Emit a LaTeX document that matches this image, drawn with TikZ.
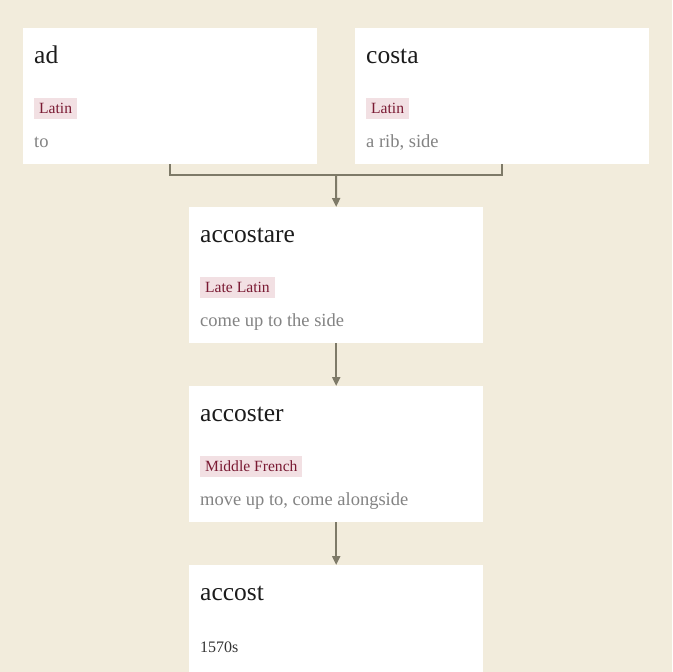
\documentclass[tikz,border=0pt]{standalone}
\usepackage{fontspec}
\setmainfont{Liberation Serif}
\usetikzlibrary{arrows.meta}
\definecolor{bg}{HTML}{F2ECDC}
\definecolor{tagbg}{HTML}{F2E0E3}
\definecolor{tagfg}{HTML}{7A1A33}
\definecolor{gloss}{HTML}{838383}
\definecolor{conn}{HTML}{7E7A68}
\definecolor{ttl}{HTML}{1C1C1C}
\tikzset{
  card/.style={fill=white, draw=none, minimum width=294pt, minimum height=136pt, inner sep=0pt, anchor=north west},
  title/.style={anchor=base west, inner sep=0pt, font=\fontsize{25.5}{28}\selectfont, text=ttl},
  tag/.style={anchor=base west, fill=tagbg, text=tagfg, inner xsep=5pt, inner ysep=0pt, text height=15pt, text depth=6pt, font=\fontsize{15.6}{17}\selectfont},
  glosstext/.style={anchor=base west, inner sep=0pt, text=gloss, font=\fontsize{18.5}{21}\selectfont},
  datetext/.style={anchor=base west, inner sep=0pt, text=black!80, font=\fontsize{16}{18}\selectfont},
  conline/.style={draw=conn, line width=2pt},
  conarrow/.style={draw=conn, line width=2pt, -{Triangle[width=8pt,length=9pt]}},
}
\begin{document}
\begin{tikzpicture}[x=1pt,y=-1pt]
\useasboundingbox (0,0) rectangle (672,672);
\clip (0,0) rectangle (672,672);
\fill[bg] (0,0) rectangle (672,672);
% cards
\node[card] (ad) at (23,28) {};
\node[card] (costa) at (355,28) {};
\node[card] (accostare) at (189,207) {};
\node[card] (accoster) at (189,386) {};
\node[card] (accost) at (189,565) {};
% texts
\node[title] (adT) at (34,63) {ad};
\node[tag] (adL) at (34,113) {Latin};
\node[glosstext] (adG) at (34,147) {to};
\node[title] (costaT) at (366,63) {costa};
\node[tag] (costaL) at (366,113) {Latin};
\node[glosstext] (costaG) at (366,147) {a rib, side};
\node[title] (accostareT) at (200,242) {accostare};
\node[tag] (accostareL) at (200,292) {Late Latin};
\node[glosstext] (accostareG) at (200,326) {come up to the side};
\node[title] (accosterT) at (200,421) {accoster};
\node[tag] (accosterL) at (200,471) {Middle French};
\node[glosstext] (accosterG) at (200,505) {move up to, come alongside};
\node[title] (accostT) at (200,600) {accost};
\node[datetext] (accostD) at (200,652) {1570s};
% connectors
\coordinate (join) at (336,175);
\draw[conline] (ad.south) |- (join) -| (costa.south);
\draw[conarrow] (join) -- (accostare.north);
\draw[conarrow] (accostare.south) -- (accoster.north);
\draw[conarrow] (accoster.south) -- (accost.north);
\end{tikzpicture}
\end{document}
